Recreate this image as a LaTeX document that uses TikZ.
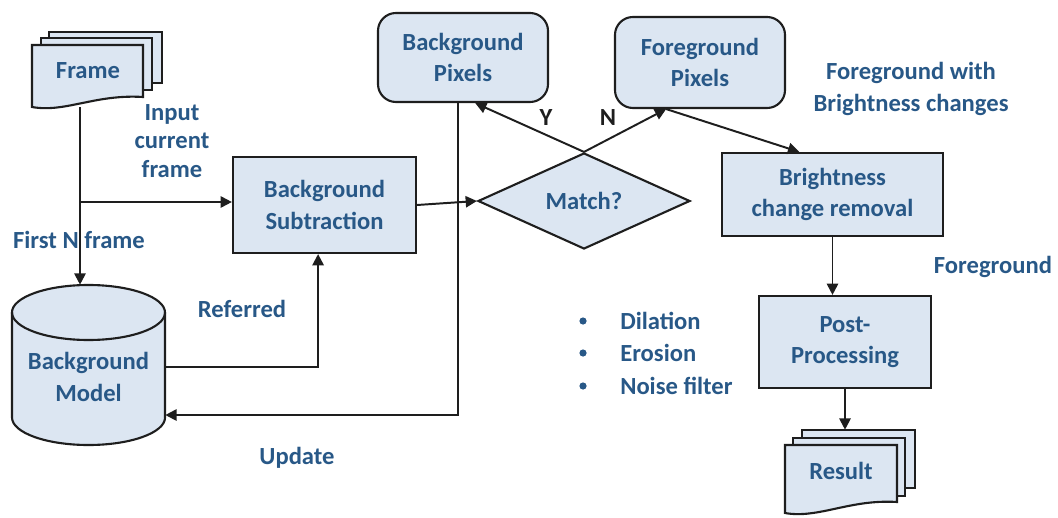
\documentclass[tikz,border=0pt]{standalone}
\usepackage{fontspec}
\setmainfont{Carlito}
\usepackage{xcolor}
\usepackage{tikz}
\usetikzlibrary{arrows.meta, positioning, calc, shapes.geometric}

\definecolor{boxfill}{RGB}{220,230,242}
\definecolor{txtblue}{RGB}{40,88,135}
\definecolor{edge}{RGB}{30,30,30}

\tikzset{
	box/.style={draw=edge, line width=1.5pt, fill=boxfill, text=txtblue, align=center, inner sep=0pt},
	rbox/.style={box, rounded corners=4.5mm},
	sheet/.style={draw=edge, line width=1.5pt, fill=boxfill},
	lbl/.style={text=txtblue, align=center, inner sep=0pt},
	arr/.style={draw=edge, line width=1.4pt, -{Triangle[length=8pt,width=8pt]}},
}

\begin{document}
\begin{tikzpicture}[x=0.025cm, y=-0.025cm, font=\bfseries\fontsize{17.5}{22.5}\selectfont]
		\useasboundingbox (0,0) rectangle (1058,518);
		
		% Frame (stacked documents)
		\filldraw[sheet] (49,32) rectangle (162,83);
		\filldraw[sheet] (41,38) rectangle (152,90);
		\filldraw[sheet] (32,45) -- (143,45) -- (143,97) .. controls (95,94) and (65,113) .. (32,107) -- cycle;
		\node[lbl, minimum width=2.775cm, minimum height=1.8cm] (frame) at (88,71) {Frame};
		
		% Background model (cylinder)
		\filldraw[sheet] (12,312.5) -- (12,417.5) arc[start angle=180, end angle=360, x radius=1.9125cm, y radius=0.6875cm]
		-- (165,312.5) arc[start angle=0, end angle=180, x radius=1.9125cm, y radius=0.6875cm] -- cycle;
		\draw[draw=edge, line width=1.5pt] (12,312.5) arc[start angle=180, end angle=360, x radius=1.9125cm, y radius=0.6875cm];
		\node[lbl, minimum width=3.825cm, minimum height=4.6cm] (bgmodel) at (88.5,377) {Background\\Model};
		
		% Boxes
		\node[box, minimum width=4.575cm, minimum height=2.4cm] (bgsub) at (324.5,205) {Background\\Subtraction};
		\node[box, diamond, aspect=2.2, minimum width=5.3cm, minimum height=2.4cm] (match) at (584,201) {Match?};
		\node[rbox, minimum width=4.25cm, minimum height=2.225cm] (bgpix) at (463,57.5) {Background\\Pixels};
		\node[rbox, minimum width=4.25cm, minimum height=2.275cm] (fgpix) at (700,62.5) {Foreground\\Pixels};
		\node[box, minimum width=5.525cm, minimum height=2.075cm] (bright) at (832.5,194.5) {Brightness\\change removal};
		\node[box, minimum width=4.3cm, minimum height=2.3cm] (post) at (845,342) {Post-\\Processing};
		
		% Result (stacked documents)
		\filldraw[sheet] (802,430) rectangle (915,488);
		\filldraw[sheet] (793,438) rectangle (905,496);
		\filldraw[sheet] (785,445) -- (897,445) -- (897,502) .. controls (850,499) and (818,519) .. (785,513) -- cycle;
		\node[lbl, minimum width=2.8cm, minimum height=2.05cm] (result) at (841,471) {Result};
		
		% Connectors
		\coordinate (tap) at (80,202);
		\draw[arr] (frame.south -| tap) -- (bgmodel.north -| tap);
		\draw[arr] (tap) -- (tap -| bgsub.west);
		\draw[arr] (bgsub.east) -- (match.west);
		\draw[arr] (match.north) -- (bgpix.-75);
		\draw[arr] (match.north) -- (fgpix.234);
		\draw[arr] (fgpix.234) -- (bright.128);
		\draw[arr] (bright.south) -- (bright.south |- post.north);
		\draw[arr] (post.south) -- (post.south |- result.north);
		\draw[arr] ([yshift=0.25cm]bgmodel.east) -| ([xshift=-0.16cm]bgsub.south);
		\draw[arr] ([xshift=-0.125cm]bgpix.south) |- ([yshift=-0.95cm]bgmodel.east);
		
		% Labels
		\node[lbl, font=\bfseries\fontsize{17.5}{20}\selectfont] (inlbl) at (172,141) {Input\\current\\frame};
		\node[lbl] (firstn) at (79,240) {First N frame};
		\node[lbl] (referred) at (242,309) {Referred};
		\node[lbl] (update) at (297,458) {Update};
		\node[lbl, text=edge] (ylbl) at (546,118) {Y};
		\node[lbl, text=edge] (nlbl) at (608,118) {N};
		\node[lbl] (fgbright) at (911,89) {Foreground with\\Brightness changes};
		\node[lbl] (fglbl) at (993,267) {Foreground};
		
		% Post-processing steps
		\foreach \y/\t/\n in {321/Dilation/dil, 353/Erosion/ero, 386/Noise filter/noise} {
			\fill[txtblue] (583,\y) circle (0.09cm);
			\node[lbl, anchor=west] (\n) at (620,\y) {\t};
		}
	\end{tikzpicture}
\end{document}
